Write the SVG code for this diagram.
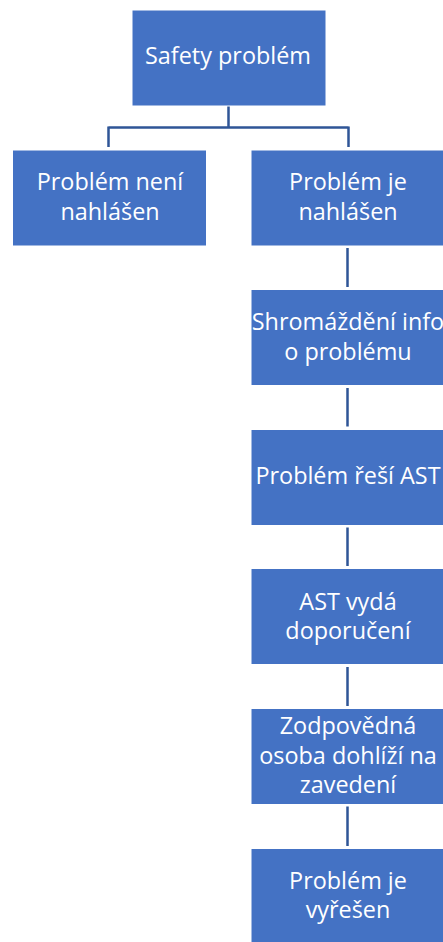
<svg xmlns="http://www.w3.org/2000/svg" width="443" height="942" viewBox="0 0 443 942">
<style>
.box{fill:#4472C4;stroke:#ffffff;stroke-width:1}
.lbl{font-family:"Open Sans","Noto Sans","Liberation Sans",sans-serif;font-size:23.4px;fill:#ffffff;text-anchor:middle}
.con{fill:none;stroke:#2F5597;stroke-width:2.5}
</style>
<rect width="443" height="942" fill="#ffffff"/>
<g id="connectors">
<path class="con" d="M228.5,106 V127.5 M108.5,127.5 H348.5 M108.5,126.5 V147 M348.5,126.5 V147"/>
<path class="con" d="M347.5,248 V287 M347.5,388 V426.5 M347.5,527.5 V566 M347.5,667 V706 M347.5,806.5 V846"/>
</g>
<g id="n1"><rect class="box" x="132" y="10" width="194" height="96"/><text class="lbl" x="228" y="64">Safety problém</text></g>
<g id="n2"><rect class="box" x="12.5" y="150" width="194" height="96"/><text class="lbl" x="110" y="190">Problém není</text><text class="lbl" x="110" y="220">nahlášen</text></g>
<g id="n3"><rect class="box" x="251" y="150" width="194" height="96"/><text class="lbl" x="348" y="190">Problém je</text><text class="lbl" x="348" y="220">nahlášen</text></g>
<g id="n4"><rect class="box" x="251" y="289.5" width="194" height="96"/><text class="lbl" x="348" y="329.5">Shromáždění info</text><text class="lbl" x="348" y="359.5">o problému</text></g>
<g id="n5"><rect class="box" x="251" y="429.5" width="194" height="96"/><text class="lbl" x="348" y="484">Problém řeší AST</text></g>
<g id="n6"><rect class="box" x="251" y="568.5" width="194" height="96"/><text class="lbl" x="348" y="609.5">AST vydá</text><text class="lbl" x="348" y="638.5">doporučení</text></g>
<g id="n7"><rect class="box" x="251" y="708.5" width="194" height="96"/><text class="lbl" x="348" y="734">Zodpovědná</text><text class="lbl" x="348" y="763.5">osoba dohlíží na</text><text class="lbl" x="348" y="793">zavedení</text></g>
<g id="n8"><rect class="box" x="251" y="848.5" width="194" height="96"/><text class="lbl" x="348" y="888.5">Problém je</text><text class="lbl" x="348" y="917.5">vyřešen</text></g>
</svg>
